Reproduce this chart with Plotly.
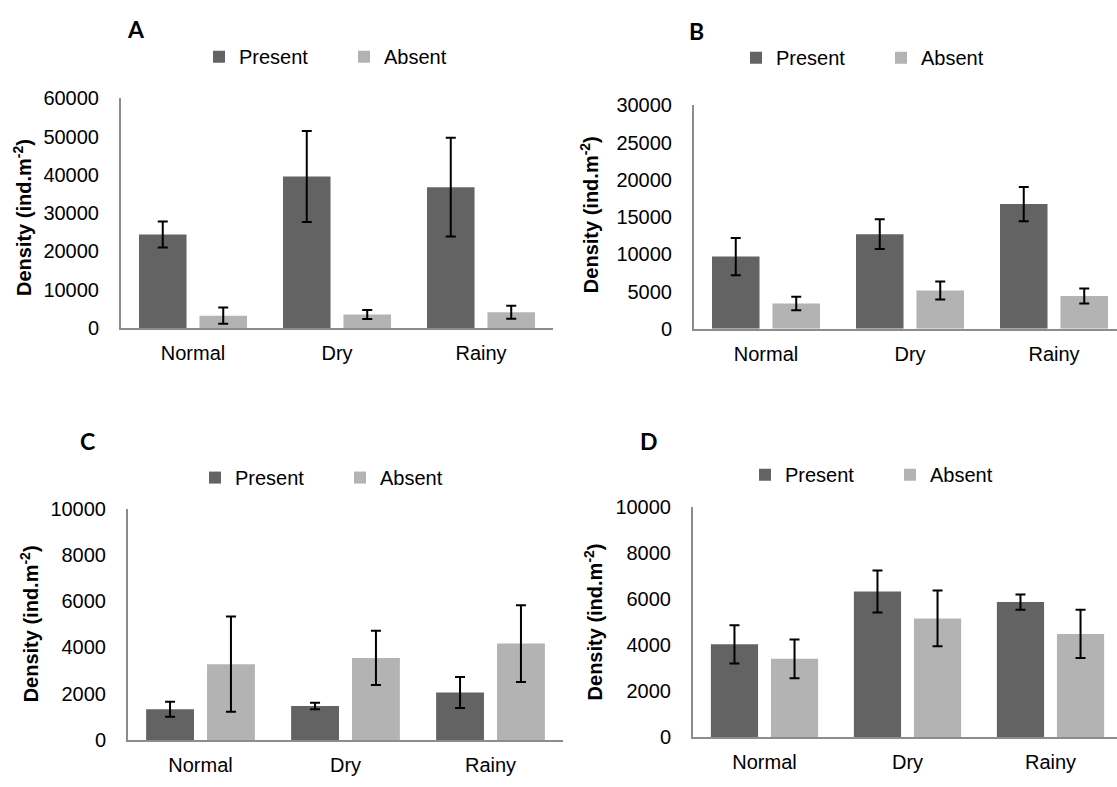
import plotly.graph_objects as go

W, H = 1117, 787

seasons = ["Normal", "Dry", "Rainy"]

# Panel A
a_present = [24400, 39600, 36800]
a_present_err = [3400, 11900, 12900]
a_absent = [3200, 3500, 4100]
a_absent_err = [2100, 1150, 1700]

# Panel B
b_present = [9700, 12700, 16750]
b_present_err = [2500, 2000, 2300]
b_absent = [3400, 5150, 4400]
b_absent_err = [900, 1200, 1000]

# Panel C
c_present = [1330, 1470, 2060]
c_present_err = [320, 140, 670]
c_absent = [3280, 3550, 4170]
c_absent_err = [2060, 1170, 1660]

# Panel D
d_present = [4030, 6320, 5860]
d_present_err = [830, 910, 330]
d_absent = [3400, 5150, 4480]
d_absent_err = [840, 1210, 1050]

y_max = [60000, 30000, 10000, 10000]
y_step = [10000, 5000, 2000, 2000]
panel_letters = ["A", "B", "C", "D"]

DARK = "#636363"
LIGHT = "#b3b3b3"
AXIS = "#8c8c8c"
FONT = "Liberation Sans, Arial, sans-serif"


def px_x(x):
    return x / W


def px_y(y):
    return 1 - y / H


# plot-area boxes in pixels: left, right, top, bottom, x-range end
boxes = [
    (121, 553, 90, 326, 2.5),
    (694, 1117, 97, 327, 2.4375),
    (128, 563, 512, 750, 2.5),
    (693, 1117, 510, 747, 2.465),
]

panels = [
    (a_present, a_present_err, a_absent, a_absent_err),
    (b_present, b_present_err, b_absent, b_absent_err),
    (c_present, c_present_err, c_absent, c_absent_err),
    (d_present, d_present_err, d_absent, d_absent_err),
]

# legend anchor (left px, centre y px), letter position, y-title centre
legend_pos = [(199, 47), (736, 48), (195, 480), (745, 477)]
letter_pos = [(135.5, 18.5), (696, 20.5), (87.5, 442), (649, 442)]
ytitle_pos = [(22, 213), (589, 210), (29, 631), (593, 629)]

fig = go.Figure()
layout = {}
annotations = []

for i, (pres, pres_err, absn, absn_err) in enumerate(panels):
    n = "" if i == 0 else str(i + 1)
    xa, ya = "x" + n, "y" + n
    lg = "legend" + n
    fig.add_trace(go.Bar(
        x=seasons, y=pres, name="Present", xaxis=xa, yaxis=ya, legend=lg,
        width=0.33, offset=-0.375,
        marker=dict(color=DARK, line=dict(width=0)),
        error_y=dict(type="data", array=pres_err, color="black", thickness=2, width=5),
    ))
    fig.add_trace(go.Bar(
        x=seasons, y=absn, name="Absent", xaxis=xa, yaxis=ya, legend=lg,
        width=0.33, offset=0.045,
        marker=dict(color=LIGHT, line=dict(width=0)),
        error_y=dict(type="data", array=absn_err, color="black", thickness=2, width=5),
    ))

    left, right, top, bottom, xend = boxes[i]
    layout["xaxis" + n] = dict(
        domain=[px_x(left), px_x(right)], anchor=ya, type="category",
        range=[-0.5, xend], showline=True, linecolor=AXIS, linewidth=2,
        ticks="", showgrid=False, zeroline=False, ticklabelstandoff=6,
        tickfont=dict(family=FONT, size=20, color="black"), fixedrange=True,
    )
    layout["yaxis" + n] = dict(
        domain=[px_y(bottom), px_y(top)], anchor=xa,
        range=[0, y_max[i]], dtick=y_step[i], tick0=0, tickformat="d",
        showline=True, linecolor=AXIS, linewidth=2, ticks="",
        showgrid=False, zeroline=False, ticklabelstandoff=16,
        tickfont=dict(family=FONT, size=20, color="black"), fixedrange=True,
    )
    lx, ly = legend_pos[i]
    layout[lg] = dict(
        x=px_x(lx), y=px_y(ly), xanchor="left", yanchor="middle",
        orientation="h", traceorder="normal", bgcolor="rgba(0,0,0,0)",
        font=dict(family=FONT, size=20, color="black"),
        itemwidth=30, entrywidth=100, itemclick=False, itemdoubleclick=False,
    )
    cx, cy = letter_pos[i]
    annotations.append(dict(
        text="<b>" + panel_letters[i] + "</b>", x=px_x(cx), y=px_y(cy),
        xref="paper", yref="paper", showarrow=False,
        xanchor="center", yanchor="middle",
        font=dict(family="Lato, Liberation Sans, sans-serif", size=23, color="black"),
    ))
    tx, ty = ytitle_pos[i]
    annotations.append(dict(
        text="<b>Density (ind.m<sup>-2</sup>)</b>", x=px_x(tx), y=px_y(ty),
        xref="paper", yref="paper", showarrow=False, textangle=-90,
        xanchor="center", yanchor="middle",
        font=dict(family=FONT, size=20, color="black"),
    ))

fig.update_layout(
    width=W, height=H, margin=dict(l=0, r=0, t=0, b=0),
    paper_bgcolor="white", plot_bgcolor="white",
    barmode="group", annotations=annotations, showlegend=True,
    **layout,
)

fig.write_html("out.html", config={"displayModeBar": False})
